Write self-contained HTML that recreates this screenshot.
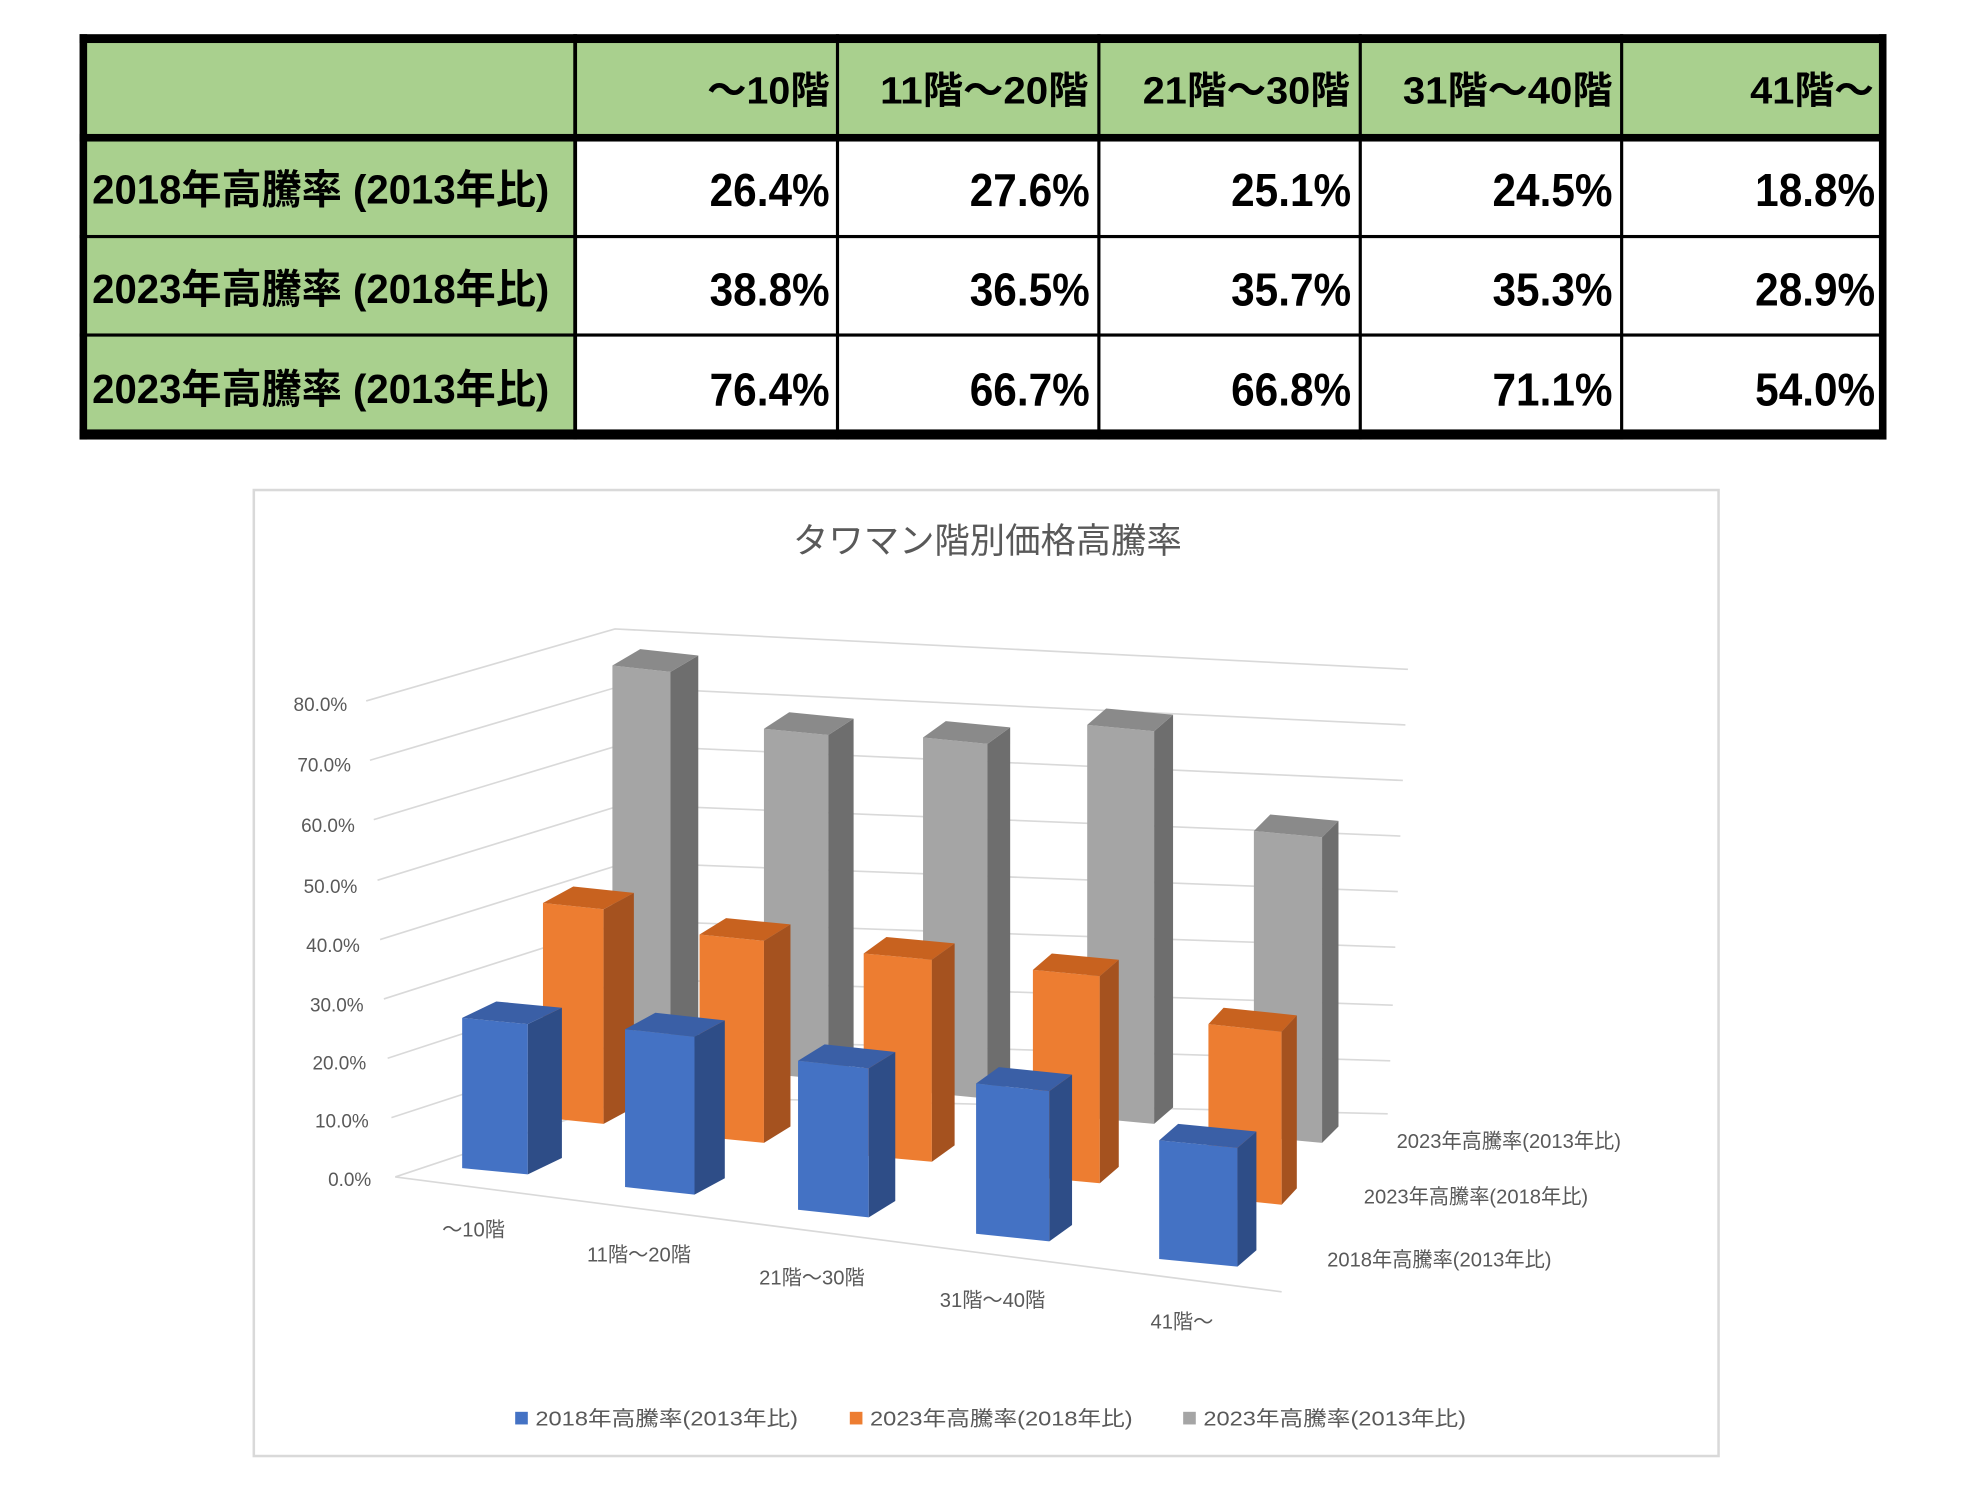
<!DOCTYPE html>
<html><head><meta charset="utf-8"><style>html,body{margin:0;padding:0;background:#fff}svg{display:block}</style></head>
<body>
<svg width="1961" height="1494" viewBox="0 0 1553 1183" xmlns="http://www.w3.org/2000/svg" font-family="'Liberation Sans','Noto Sans CJK JP',sans-serif">
<rect width="1553" height="1183" fill="#fff"/>
<!-- TABLE -->
<rect x="66" y="30" width="1425" height="315" fill="#fff"/>
<rect x="66" y="30" width="1425" height="79" fill="#a9d08e"/>
<rect x="66" y="109" width="391" height="236" fill="#a9d08e"/>
<g fill="#000">
<rect x="63" y="27" width="1431" height="7"/>
<rect x="63" y="340" width="1431" height="8"/>
<rect x="63" y="27" width="6" height="321"/>
<rect x="1488" y="27" width="6" height="321"/>
<rect x="63" y="106" width="1431" height="6"/>
<rect x="63" y="186" width="1431" height="2.5"/>
<rect x="63" y="264" width="1431" height="2.5"/>
<rect x="454" y="27" width="3" height="321"/>
<rect x="662" y="27" width="2.5" height="321"/>
<rect x="869" y="27" width="2.5" height="321"/>
<rect x="1076" y="27" width="2.5" height="321"/>
<rect x="1283" y="27" width="2.5" height="321"/>
</g>
<g font-weight="bold" font-size="30" fill="#000">
<text x="560" y="82" textLength="97" lengthAdjust="spacingAndGlyphs">～10階</text>
<text x="697" y="82" textLength="165" lengthAdjust="spacingAndGlyphs">11階～20階</text>
<text x="905" y="82" textLength="164" lengthAdjust="spacingAndGlyphs">21階～30階</text>
<text x="1111" y="82" textLength="166" lengthAdjust="spacingAndGlyphs">31階～40階</text>
<text x="1386" y="82" textLength="98" lengthAdjust="spacingAndGlyphs">41階～</text>
</g>
<g font-weight="bold" font-size="32" fill="#000">
<text x="73" y="161" textLength="362" lengthAdjust="spacingAndGlyphs">2018年高騰率 (2013年比)</text>
<text x="73" y="240" textLength="362" lengthAdjust="spacingAndGlyphs">2023年高騰率 (2018年比)</text>
<text x="73" y="319" textLength="362" lengthAdjust="spacingAndGlyphs">2023年高騰率 (2013年比)</text>
</g>
<g font-weight="bold" font-size="37" fill="#000" text-anchor="end">
<text x="657" y="163" textLength="95" lengthAdjust="spacingAndGlyphs">26.4%</text>
<text x="863" y="163" textLength="95" lengthAdjust="spacingAndGlyphs">27.6%</text>
<text x="1070" y="163" textLength="95" lengthAdjust="spacingAndGlyphs">25.1%</text>
<text x="1277" y="163" textLength="95" lengthAdjust="spacingAndGlyphs">24.5%</text>
<text x="1485" y="163" textLength="95" lengthAdjust="spacingAndGlyphs">18.8%</text>
<text x="657" y="242" textLength="95" lengthAdjust="spacingAndGlyphs">38.8%</text>
<text x="863" y="242" textLength="95" lengthAdjust="spacingAndGlyphs">36.5%</text>
<text x="1070" y="242" textLength="95" lengthAdjust="spacingAndGlyphs">35.7%</text>
<text x="1277" y="242" textLength="95" lengthAdjust="spacingAndGlyphs">35.3%</text>
<text x="1485" y="242" textLength="95" lengthAdjust="spacingAndGlyphs">28.9%</text>
<text x="657" y="321" textLength="95" lengthAdjust="spacingAndGlyphs">76.4%</text>
<text x="863" y="321" textLength="95" lengthAdjust="spacingAndGlyphs">66.7%</text>
<text x="1070" y="321" textLength="95" lengthAdjust="spacingAndGlyphs">66.8%</text>
<text x="1277" y="321" textLength="95" lengthAdjust="spacingAndGlyphs">71.1%</text>
<text x="1485" y="321" textLength="95" lengthAdjust="spacingAndGlyphs">54.0%</text>
</g>
<!-- CHART -->
<rect x="201" y="388" width="1160" height="765" fill="#fff" stroke="#d9d9d9" stroke-width="2"/>
<text x="782" y="438" text-anchor="middle" font-size="28" fill="#595959">タワマン階別価格高騰率</text>
<g fill="none" stroke="#d9d9d9" stroke-width="1.3">
<polyline points="313,932 505,868 1099,882"/>
<polyline points="310,885 503,822 1101,840"/>
<polyline points="307,838 500,775 1103,796"/>
<polyline points="304,791 498,729 1105,750"/>
<polyline points="301,744 496,683 1107,706"/>
<polyline points="299,697 494,637 1109,662"/>
<polyline points="296,649 491,590 1111,618"/>
<polyline points="293,602 489,544 1113,574"/>
<polyline points="290,555 487,498 1115,530"/>
<line x1="313" y1="932" x2="1015" y2="1023"/>
</g>
<g font-size="15" fill="#595959" text-anchor="end">
<text x="275" y="563">80.0%</text>
<text x="278" y="611">70.0%</text>
<text x="281" y="659">60.0%</text>
<text x="283" y="707">50.0%</text>
<text x="285" y="754">40.0%</text>
<text x="288" y="801">30.0%</text>
<text x="290" y="847">20.0%</text>
<text x="292" y="893">10.0%</text>
<text x="294" y="939">0.0%</text>
</g>
<!-- gray -->
<g>
<polygon fill="#a5a5a5" points="485,527 531,532 531,840 485,835"/><polygon fill="#6e6e6e" points="531,532 553,519 553,827 531,840"/><polygon fill="#8a8a8a" points="485,527 507,514 553,519 531,532"/>
<polygon fill="#a5a5a5" points="605,577 656,582 656,855 605,850"/><polygon fill="#6e6e6e" points="656,582 676,569 676,842 656,855"/><polygon fill="#8a8a8a" points="605,577 625,564 676,569 656,582"/>
<polygon fill="#a5a5a5" points="731,584 782,589 782,870 731,865"/><polygon fill="#6e6e6e" points="782,589 800,576 800,857 782,870"/><polygon fill="#8a8a8a" points="731,584 749,571 800,576 782,589"/>
<polygon fill="#a5a5a5" points="861,574 914,579 914,890 861,885"/><polygon fill="#6e6e6e" points="914,579 929,566 929,877 914,890"/><polygon fill="#8a8a8a" points="861,574 876,561 929,566 914,579"/>
<polygon fill="#a5a5a5" points="993,658 1047,663 1047,905 993,900"/><polygon fill="#6e6e6e" points="1047,663 1060,650 1060,892 1047,905"/><polygon fill="#8a8a8a" points="993,658 1006,645 1060,650 1047,663"/>
</g>
<!-- orange -->
<g>
<polygon fill="#ed7d31" points="430,715 478,720 478,890 430,885"/><polygon fill="#a5521f" points="478,720 502,707 502,877 478,890"/><polygon fill="#c8621f" points="430,715 454,702 502,707 478,720"/>
<polygon fill="#ed7d31" points="554,740 605,745 605,905 554,900"/><polygon fill="#a5521f" points="605,745 626,732 626,892 605,905"/><polygon fill="#c8621f" points="554,740 575,727 626,732 605,745"/>
<polygon fill="#ed7d31" points="684,755 738,760 738,920 684,915"/><polygon fill="#a5521f" points="738,760 756,747 756,907 738,920"/><polygon fill="#c8621f" points="684,755 702,742 756,747 738,760"/>
<polygon fill="#ed7d31" points="818,768 871,773 871,937 818,932"/><polygon fill="#a5521f" points="871,773 886,760 886,924 871,937"/><polygon fill="#c8621f" points="818,768 833,755 886,760 871,773"/>
<polygon fill="#ed7d31" points="957,811 1015,817 1015,954 957,948"/><polygon fill="#a5521f" points="1015,817 1027,804 1027,941 1015,954"/><polygon fill="#c8621f" points="957,811 969,798 1027,804 1015,817"/>
</g>
<!-- blue -->
<g>
<polygon fill="#4472c4" points="366,806 418,811 418,930 366,925"/><polygon fill="#2e4d87" points="418,811 445,798 445,917 418,930"/><polygon fill="#3a5fa6" points="366,806 393,793 445,798 418,811"/>
<polygon fill="#4472c4" points="495,815 550,821 550,946 495,940"/><polygon fill="#2e4d87" points="550,821 574,808 574,933 550,946"/><polygon fill="#3a5fa6" points="495,815 519,802 574,808 550,821"/>
<polygon fill="#4472c4" points="632,840 688,846 688,964 632,958"/><polygon fill="#2e4d87" points="688,846 709,833 709,951 688,964"/><polygon fill="#3a5fa6" points="632,840 653,827 709,833 688,846"/>
<polygon fill="#4472c4" points="773,858 831,864 831,983 773,977"/><polygon fill="#2e4d87" points="831,864 849,851 849,970 831,983"/><polygon fill="#3a5fa6" points="773,858 791,845 849,851 831,864"/>
<polygon fill="#4472c4" points="918,903 980,909 980,1003 918,997"/><polygon fill="#2e4d87" points="980,909 995,896 995,990 980,1003"/><polygon fill="#3a5fa6" points="918,903 933,890 995,896 980,909"/>
</g>
<g font-size="16" fill="#595959" text-anchor="middle">
<text x="375" y="979">～10階</text>
<text x="506" y="999">11階～20階</text>
<text x="643" y="1017">21階～30階</text>
<text x="786" y="1035">31階～40階</text>
<text x="936" y="1052">41階～</text>
</g>
<g font-size="16" fill="#595959">
<text x="1106" y="909">2023年高騰率(2013年比)</text>
<text x="1080" y="953">2023年高騰率(2018年比)</text>
<text x="1051" y="1003">2018年高騰率(2013年比)</text>
</g>
<rect x="408" y="1118" width="10" height="10" fill="#4472c4"/>
<rect x="673" y="1118" width="10" height="10" fill="#ed7d31"/>
<rect x="937" y="1118" width="10" height="10" fill="#a5a5a5"/>
<g font-size="16" fill="#595959">
<text x="424" y="1129" textLength="208" lengthAdjust="spacingAndGlyphs">2018年高騰率(2013年比)</text>
<text x="689" y="1129" textLength="208" lengthAdjust="spacingAndGlyphs">2023年高騰率(2018年比)</text>
<text x="953" y="1129" textLength="208" lengthAdjust="spacingAndGlyphs">2023年高騰率(2013年比)</text>
</g>
</svg>
</body></html>
